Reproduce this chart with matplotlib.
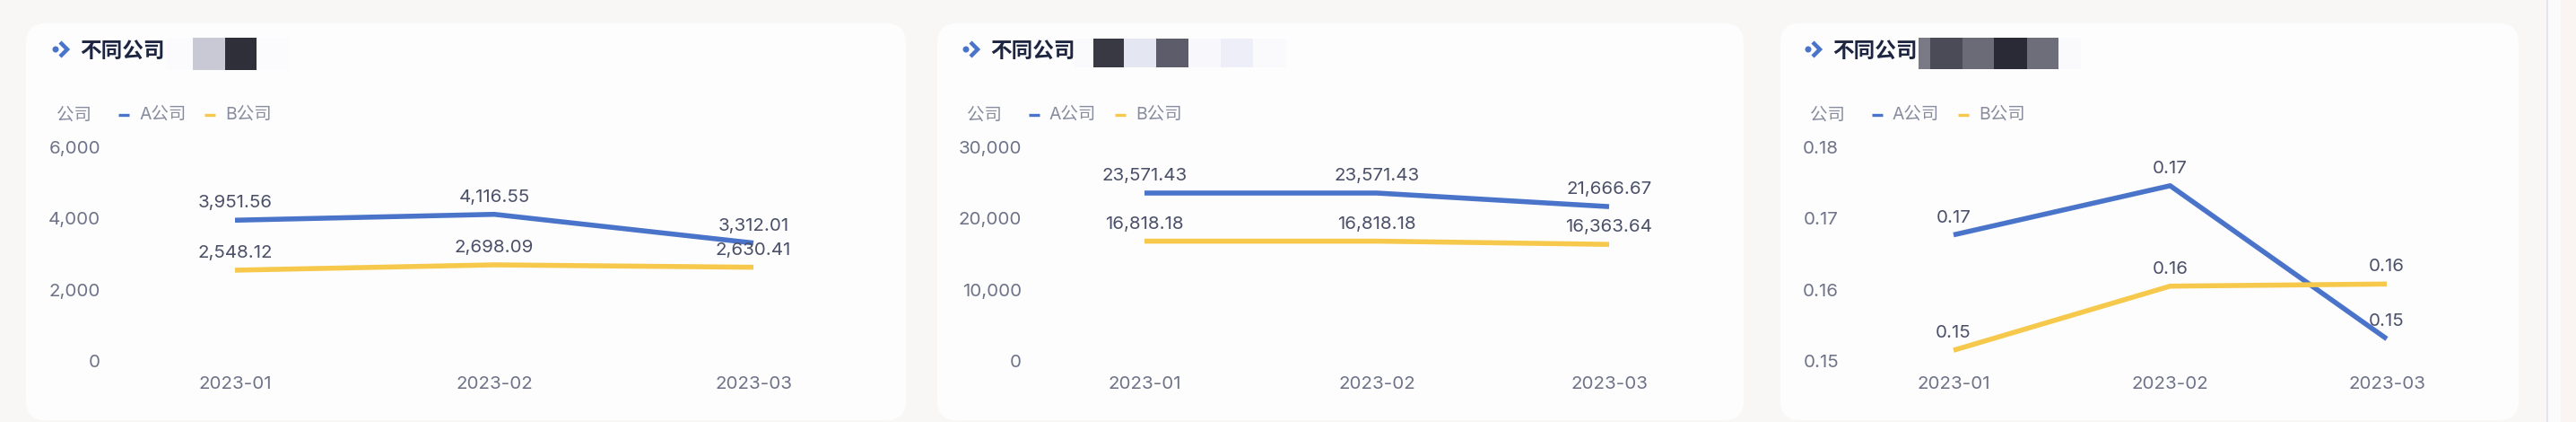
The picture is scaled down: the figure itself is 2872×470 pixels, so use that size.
import matplotlib
matplotlib.use('Agg')
import matplotlib.pyplot as plt
from matplotlib.patches import FancyBboxPatch, Rectangle, Circle
from matplotlib.lines import Line2D
from matplotlib.transforms import Affine2D

# ---------------- data ----------------
months = ['2023-01', '2023-02', '2023-03']
series_names = ['A公司', 'B公司']
legend_title = '公司'
chart_title = '不同公司'

p1_a = [3951.56, 4116.55, 3312.01]
p1_b = [2548.12, 2698.09, 2630.41]
p1_ticks = [0, 2000, 4000, 6000]

p2_a = [23571.43, 23571.43, 21666.67]
p2_b = [16818.18, 16818.18, 16363.64]
p2_ticks = [0, 10000, 20000, 30000]

p3_a = [0.1677, 0.1746, 0.1531]
p3_b = [0.1515, 0.1605, 0.1608]
p3_ticks = [0.15, 0.16, 0.17, 0.18]

# ---------------- style ----------------
W, H = 2872, 470
BG = '#f8f7f6'
CARD = '#fdfdfd'
BLUE = '#4a74c9'
YELLOW = '#f6c94c'
TICK_C = '#6e7388'
LABEL_C = '#4b5069'
LEG_C = '#878c9e'
TITLE_C = '#1d2540'
NUM_FONT = ['Inter', 'Noto Sans CJK SC', 'DejaVu Sans']
CJK_FONT = ['Noto Sans CJK SC', 'DejaVu Sans']

plt.rcParams['font.family'] = NUM_FONT

fig = plt.figure(figsize=(W / 100, H / 100), dpi=100, facecolor=BG)
PX = Affine2D().scale(1, -1).translate(0, H).scale(1 / W, 1 / H) + fig.transFigure

# right edge decoration
fig.add_artist(Rectangle((2855, 0), 17, H, transform=PX, color='#faf4f2', lw=0, zorder=-5))
fig.add_artist(Rectangle((2841, 0), 14, H, transform=PX, color='#fbfbfb', lw=0, zorder=-5))
fig.add_artist(Line2D([2840, 2840], [0, H], transform=PX, color='#e4e4ee', lw=1.5, zorder=-5))

Y_TOP, Y_BOT = 164, 402

panels = [
    dict(a=p1_a, b=p1_b, ticks=p1_ticks, tfmt='{:,.0f}', x0=262, dx=289, tick_right=112,
         card=(29, 1010), title_x=89, legend_x=63,
         blocks=[(185, 322, 42, 78, '#fbfbfe'), (215, 251, 42, 78, '#c8c9d4'),
                 (251, 286, 42, 78, '#2f2f3a')]),
    dict(a=p2_a, b=p2_b, ticks=p2_ticks, tfmt='{:,.0f}', x0=1276, dx=259, tick_right=1139,
         card=(1045, 1944), title_x=1104, legend_x=1078,
         blocks=[(1198, 1434, 43, 75, '#fafafd'), (1219, 1253, 43, 75, '#393943'),
                 (1253, 1289, 43, 75, '#e4e6f2'), (1289, 1325, 43, 75, '#5c5c6b'),
                 (1325, 1361, 43, 75, '#f7f7fc'), (1361, 1397, 43, 75, '#eeeef8')]),
    dict(a=p3_a, b=p3_b, ticks=p3_ticks, tfmt='{:.2f}', x0=2178, dx=241.5, tick_right=2050,
         card=(1985, 2808), title_x=2043, legend_x=2018,
         blocks=[(2139, 2320, 42, 77, '#fafafc'), (2139, 2152, 42, 77, '#7a7a86'),
                 (2152, 2188, 42, 77, '#4b4b57'), (2188, 2223, 42, 77, '#6b6b77'),
                 (2223, 2260, 42, 77, '#2a2a36'), (2260, 2295, 42, 77, '#6e6e7a')]),
]

for p in panels:
    cx0, cx1 = p['card']
    fig.add_artist(FancyBboxPatch((cx0, 26), cx1 - cx0, 442, transform=PX,
                                  boxstyle='round,pad=0,rounding_size=22',
                                  facecolor=CARD, edgecolor='none', zorder=-4))
    for (bx0, bx1, by0, by1, bc) in p['blocks']:
        fig.add_artist(Rectangle((bx0, by0), bx1 - bx0, by1 - by0, transform=PX,
                                 facecolor=bc, edgecolor='none', zorder=-3))
    tx = p['title_x']
    # icon
    fig.add_artist(Circle((tx - 27, 55), 2.8, transform=PX, color=BLUE))
    fig.add_artist(Line2D([tx - 22, tx - 14, tx - 22], [47, 55, 63], transform=PX,
                          color=BLUE, lw=3.2, solid_joinstyle='miter', solid_capstyle='butt'))
    fig.text(tx, 57, chart_title, transform=PX, fontsize=17, fontweight='bold',
             color=TITLE_C, family=CJK_FONT, va='center', ha='left')
    # legend
    lx = p['legend_x']
    fig.text(lx, 128, legend_title, transform=PX, fontsize=14, color=LEG_C,
             family=CJK_FONT, va='center', ha='left')
    for (off_d, off_t, name, col) in [(69, 92, series_names[0], BLUE),
                                      (165, 188, series_names[1], YELLOW)]:
        fig.add_artist(Line2D([lx + off_d, lx + off_d + 12], [128, 128], transform=PX,
                              color=col, lw=2.4, solid_capstyle='butt'))
        fig.text(lx + off_t, 128, name, transform=PX, fontsize=14, color=LEG_C,
                 family=NUM_FONT, va='center', ha='left')

    # axes
    pad = 0.5
    left = p['x0'] - pad * p['dx']
    width = (2 + 2 * pad) * p['dx']
    ax = fig.add_axes([left / W, (H - Y_BOT) / H, width / W, (Y_BOT - Y_TOP) / H])
    ax.set_zorder(5)
    ax.set_facecolor('none')
    ax.patch.set_alpha(0)
    for s in ax.spines.values():
        s.set_visible(False)
    ax.set_xlim(-pad, 2 + pad)
    ax.set_ylim(p['ticks'][0], p['ticks'][-1])
    x = list(range(len(months)))
    ax.plot(x, p['a'], color=BLUE, lw=4.0, solid_capstyle='butt', solid_joinstyle='round',
            clip_on=False, zorder=3)
    ax.plot(x, p['b'], color=YELLOW, lw=4.0, solid_capstyle='butt', solid_joinstyle='round',
            clip_on=False, zorder=3)
    for vals in (p['a'], p['b']):
        for i, v in enumerate(vals):
            ax.annotate('{:,.2f}'.format(v), (i, v), xytext=(0, 13.7),
                        textcoords='offset points', ha='center', va='center',
                        fontsize=14.8, color=LABEL_C, zorder=4)
    ax.set_xticks(x, months)
    ax.set_yticks(p['ticks'], [p['tfmt'].format(t) for t in p['ticks']])
    ypad = (left - p['tick_right']) * 0.72
    ax.tick_params(axis='y', length=0, pad=ypad, labelsize=14.8, labelcolor=TICK_C)
    ax.tick_params(axis='x', length=0, pad=12, labelsize=14.8, labelcolor=TICK_C)
    ax.grid(False)

fig.savefig('out.png', dpi=100, facecolor=BG)
